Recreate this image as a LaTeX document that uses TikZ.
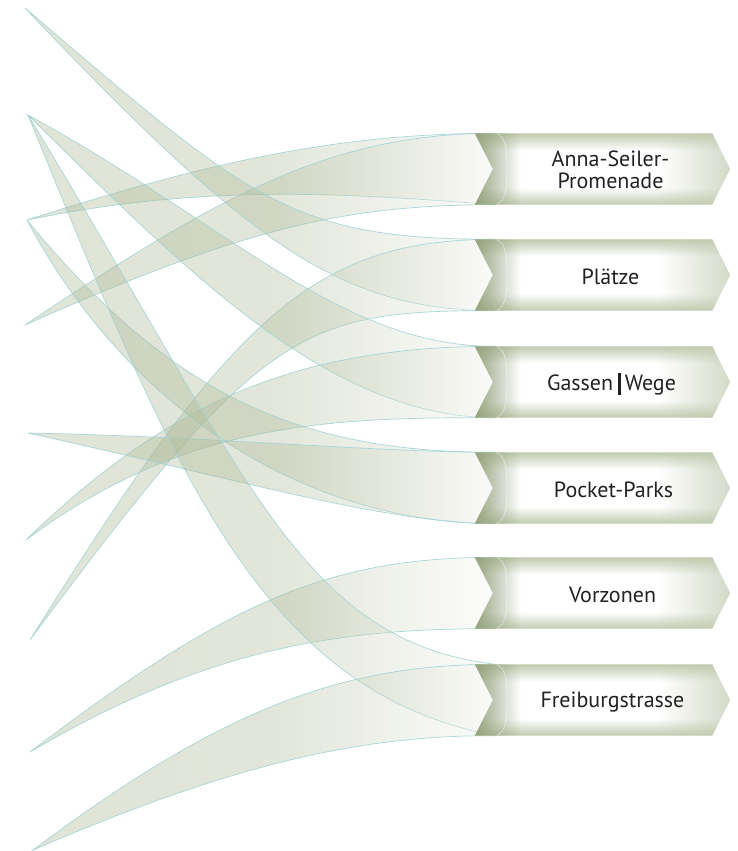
\documentclass[tikz,border=0pt]{standalone}
\usepackage{fontspec}
\setmainfont{PT Sans}
\usetikzlibrary{calc,fadings}
\definecolor{rib}{HTML}{A9B591}
\definecolor{ribedge}{HTML}{A2D3D5}
\definecolor{boxedge}{HTML}{C2CBB0}
\definecolor{notch}{HTML}{92A07A}
\definecolor{txt}{HTML}{222222}
\pgfdeclareverticalshading{boxv}{100bp}{color(0bp)=(boxedge);color(25bp)=(boxedge);color(37bp)=(white);color(63bp)=(white);color(75bp)=(boxedge);color(100bp)=(boxedge)}
\pgfdeclarehorizontalshading{ribshade}{100bp}{color(0bp)=(rib);color(25bp)=(rib);color(52bp)=(rib!92);color(68bp)=(rib!35);color(75bp)=(rib!8);color(100bp)=(rib!8)}
\tikzfading[name=notchfade, left color=transparent!0, right color=transparent!100]
\tikzfading[name=tipfade, left color=transparent!100, right color=transparent!0]
\tikzset{
  ribbon/.style={draw=ribedge, line width=0.7pt, shading=ribshade, fill opacity=0.36, draw opacity=0.9},
  boxnode/.style={rectangle, minimum width=255pt, minimum height=71pt, inner sep=0pt},
  lbl/.style={text=txt, font=\fontsize{22}{22.5}\selectfont, align=center, inner sep=0pt}
}
\newcommand{\chevron}[1]{%
  \begin{scope}
  \clip (#1.north west) -- ($(#1.north east)+(-18,0)$) -- (#1.east) -- ($(#1.south east)+(-18,0)$) -- (#1.south west) -- ($(#1.west)+(18,0)$) -- cycle;
  \path[shading=boxv] (#1.north west) rectangle (#1.south east);
  \fill[notch, path fading=notchfade, fill opacity=0.95] (#1.north west) rectangle ($(#1.south west)+(46,0)$);
  \fill[boxedge, path fading=tipfade, fill opacity=0.7] ($(#1.north east)+(-70,0)$) rectangle (#1.south east);
  \end{scope}
  \draw[white, line width=0.6pt, opacity=0.55] ($(#1.north west)+(22,0.5)$) .. controls ($(#1.north west)+(31,4)$) and ($(#1.west)+(32,-20)$) .. ($(#1.west)+(32,0)$) .. controls ($(#1.west)+(32,20)$) and ($(#1.south west)+(31,-4)$) .. ($(#1.south west)+(22,-0.5)$);
}
\begin{document}
\begin{tikzpicture}[x=1pt,y=-1pt]
\useasboundingbox (0,0) rectangle (738,851);
% tips
\coordinate (t1) at (25,8);
\coordinate (t2) at (28,115);
\coordinate (t3) at (27,220);
\coordinate (t4) at (25,325);
\coordinate (t5) at (28,433);
\coordinate (t6) at (26,540);
\coordinate (t7) at (30,640);
\coordinate (t8) at (30,752);
\coordinate (t9) at (33,850);
% boxes (frames)
\node[boxnode] (b1) at (602.5,169) {};
\node[boxnode] (b2) at (602.5,275) {};
\node[boxnode] (b3) at (602.5,382) {};
\node[boxnode] (b4) at (602.5,488) {};
\node[boxnode] (b5) at (602.5,593) {};
\node[boxnode] (b6) at (602.5,700) {};
% ribbons
\path[ribbon] (t3) .. controls (200,165) and (330,133.5) .. ($(b1.north west)+(20,0)$) -- ($(b1.south west)+(20,0)$) .. controls (330,192) and (200,185) .. (t3) -- cycle;
\path[ribbon] (t4) .. controls (220,195) and (330,133.5) .. ($(b1.north west)+(20,0)$) -- ($(b1.south west)+(20,0)$) .. controls (350,205) and (250,225) .. (t4) -- cycle;
\path[ribbon] (t1) .. controls (250,200) and (290,239.5) .. ($(b2.north west)+(20,0)$) -- ($(b2.south west)+(20,0)$) .. controls (340,310) and (250,245) .. (t1) -- cycle;
\path[ribbon] (t7) .. controls (230,320) and (310,239.5) .. ($(b2.north west)+(20,0)$) -- ($(b2.south west)+(20,0)$) .. controls (300,310) and (260,330) .. (t7) -- cycle;
\path[ribbon] (t2) .. controls (230,225) and (340,346.5) .. ($(b3.north west)+(20,0)$) -- ($(b3.south west)+(20,0)$) .. controls (330,417) and (190,275) .. (t2) -- cycle;
\path[ribbon] (t6) .. controls (170,400) and (300,346.5) .. ($(b3.north west)+(20,0)$) -- ($(b3.south west)+(20,0)$) .. controls (320,417) and (180,425) .. (t6) -- cycle;
\path[ribbon] (t3) .. controls (170,395) and (300,452.5) .. ($(b4.north west)+(20,0)$) -- ($(b4.south west)+(20,0)$) .. controls (300,523) and (125,405) .. (t3) -- cycle;
\path[ribbon] (t5) .. controls (200,436) and (380,452.5) .. ($(b4.north west)+(20,0)$) -- ($(b4.south west)+(20,0)$) .. controls (380,522) and (250,482) .. (t5) -- cycle;
\path[ribbon] (t8) .. controls (230,600) and (330,557.5) .. ($(b5.north west)+(20,0)$) -- ($(b5.south west)+(20,0)$) .. controls (330,628) and (200,652) .. (t8) -- cycle;
\path[ribbon] (t2) .. controls (250,480) and (300,640) .. ($(b6.north west)+(20,0)$) -- ($(b6.south west)+(20,0)$) .. controls (260,690) and (175,475) .. (t2) -- cycle;
\path[ribbon] (t9) .. controls (220,710) and (340,664.5) .. ($(b6.north west)+(20,0)$) -- ($(b6.south west)+(20,0)$) .. controls (360,735) and (230,765) .. (t9) -- cycle;
% boxes
\chevron{b1}\chevron{b2}\chevron{b3}\chevron{b4}\chevron{b5}\chevron{b6}
% labels
\node[lbl] (n1) at ($(b1.center)+(8,1)$) {Anna-Seiler-\\Promenade};
\node[lbl] (n2) at ($(b2.center)+(8,2)$) {Plätze};
\node[lbl] (n3) at ($(b3.center)+(9,2)$) {Gassen\hspace{5pt}\rule[-4pt]{2.6pt}{22pt}\hspace{4pt}Wege};
\node[lbl] (n4) at ($(b4.center)+(11,2)$) {Pocket-Parks};
\node[lbl] (n5) at ($(b5.center)+(10,2)$) {Vorzonen};
\node[lbl] (n6) at ($(b6.center)+(10,2)$) {Freiburgstrasse};
\end{tikzpicture}
\end{document}
